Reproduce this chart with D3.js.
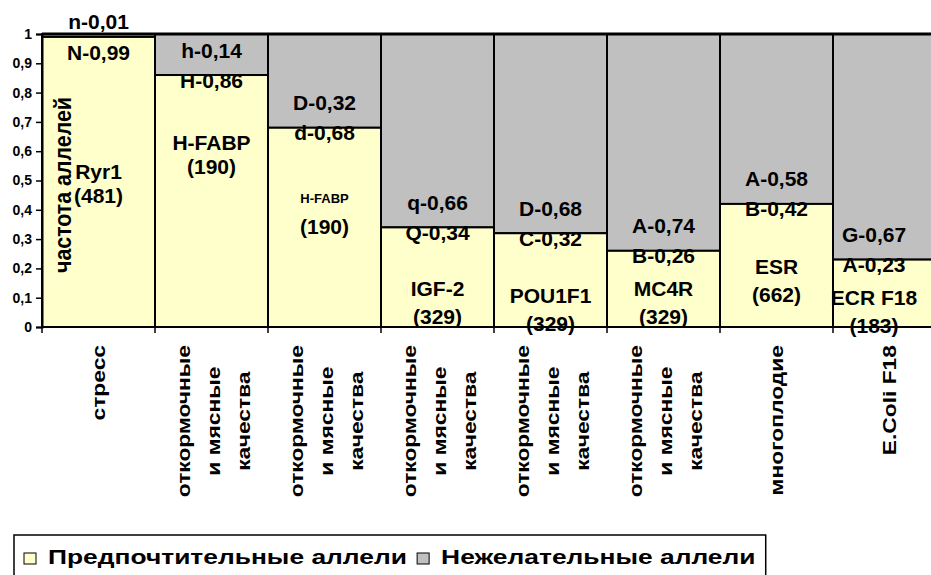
<!DOCTYPE html>
<html>
<head>
<meta charset="utf-8">
<script src="https://cdn.jsdelivr.net/npm/d3@7"></script>
<style>
  html, body { margin: 0; padding: 0; background: #fff; }
  svg { display: block; font-family: "Liberation Sans", Arial, sans-serif; font-weight: bold; }
</style>
</head>
<body>
<svg id="chart" width="931" height="575"></svg>
<script>
// ---- data ----
const categories = [
  ["стресс"],
  ["откормочные", "и мясные", "качества"],
  ["откормочные", "и мясные", "качества"],
  ["откормочные", "и мясные", "качества"],
  ["откормочные", "и мясные", "качества"],
  ["откормочные", "и мясные", "качества"],
  ["многоплодие"],
  ["E.Coli F18"]
];
const preferred   = [0.99, 0.86, 0.68, 0.34, 0.32, 0.26, 0.42, 0.23];
const undesirable = [0.01, 0.14, 0.32, 0.66, 0.68, 0.74, 0.58, 0.77];
const preferredLabels   = ["N-0,99", "H-0,86", "d-0,68", "Q-0,34", "C-0,32", "B-0,26", "B-0,42", "A-0,23"];
const undesirableLabels = ["n-0,01", "h-0,14", "D-0,32", "q-0,66", "D-0,68", "A-0,74", "A-0,58", "G-0,67"];
const genes  = ["Ryr1", "H-FABP", "H-FABP", "IGF-2", "POU1F1", "MC4R", "ESR", "ECR F18"];
const counts = ["(481)", "(190)", "(190)", "(329)", "(329)", "(329)", "(662)", "(183)"];
// level (in allele-frequency units) at which each gene name annotation sits
const geneLabelLevel = [0.53, 0.63, 0.44, 0.13, 0.106, 0.133, 0.208, 0.102];
const yTicks = [0, 0.1, 0.2, 0.3, 0.4, 0.5, 0.6, 0.7, 0.8, 0.9, 1];
const yTitle = "частота аллелей";
const seriesNames = ["Предпочтительные аллели", "Нежелательные аллели"];

// ---- layout ----
const W = 931;
const svg = d3.select("#chart");
const colors = ["#FFFFCC", "#C0C0C0"];
const idx = d3.range(categories.length);
const x = d3.scaleBand().domain(idx).range([42, 42 + 113 * categories.length]).padding(0);
const y = d3.scaleLinear().domain([0, 1]).range([327, 34]);

const plot = svg.append("g");
plot.selectAll("rect.grey").data(idx).join("rect")
  .attr("class", "grey")
  .attr("x", i => x(i)).attr("width", x.bandwidth())
  .attr("y", i => y(preferred[i] + undesirable[i]))
  .attr("height", i => y(preferred[i]) - y(preferred[i] + undesirable[i]))
  .attr("fill", colors[1]).attr("stroke", "#000").attr("stroke-width", 2);
plot.selectAll("rect.yel").data(idx).join("rect")
  .attr("class", "yel")
  .attr("x", i => x(i)).attr("width", x.bandwidth())
  .attr("y", i => y(preferred[i]))
  .attr("height", i => y(0) - y(preferred[i]))
  .attr("fill", colors[0]).attr("stroke", "#000").attr("stroke-width", 2);
plot.append("line").attr("x1", x.range()[0]).attr("x2", x.range()[1])
  .attr("y1", y(1)).attr("y2", y(1)).attr("stroke", "#000").attr("stroke-width", 3);

// y axis
const yAxis = svg.append("g").attr("transform", `translate(${x.range()[0]},0)`)
  .call(d3.axisLeft(y).tickValues(yTicks).tickSize(6).tickPadding(4)
    .tickFormat(d => d === 0 ? "0" : d === 1 ? "1" : d3.format(".1f")(d).replace(".", ",")));
yAxis.select(".domain").attr("stroke", "#000").attr("stroke-width", 2);
yAxis.selectAll(".tick line").attr("stroke", "#000").attr("stroke-width", 1.5);
yAxis.selectAll(".tick text").attr("font-size", 14).attr("font-weight", "bold")
  .attr("font-family", '"Liberation Sans", Arial, sans-serif').attr("fill", "#000");

// x axis line + ticks at category boundaries
const xa = svg.append("g");
xa.append("line").attr("x1", x.range()[0]).attr("x2", x.range()[1])
  .attr("y1", y(0)).attr("y2", y(0)).attr("stroke", "#000").attr("stroke-width", 2);
const bounds = idx.map(i => x(i)).concat([x.range()[1]]);
xa.selectAll("line.tk").data(bounds).join("line").attr("class", "tk")
  .attr("x1", d => d).attr("x2", d => d).attr("y1", y(0)).attr("y2", y(0) + 6)
  .attr("stroke", "#000").attr("stroke-width", 1.5);

// category labels (rotated, glyphs stretched along the text like the source)
const labelTop = 345, catStretch = 1.2;
idx.forEach(i => {
  const lines = categories[i];
  const cx = x(i) + x.bandwidth() / 2;
  const g = svg.append("g");
  const texts = lines.map(t => g.append("text").text(t)
    .attr("font-size", 19)
    .attr("dominant-baseline", "central").attr("text-anchor", "middle"));
  const maxLen = d3.max(texts, t => t.node().getComputedTextLength()) * catStretch;
  const cy = labelTop + maxLen / 2;
  texts.forEach((t, k) => {
    const lx = cx + (k - (lines.length - 1) / 2) * 30 + (lines.length > 1 ? 1.5 : 0);
    t.attr("transform", `translate(${lx},${cy}) rotate(-90) scale(${catStretch},1)`);
  });
});

// in-bar annotations
const ann = svg.append("g").attr("text-anchor", "middle").attr("dominant-baseline", "central").attr("font-size", 21);
idx.forEach(i => {
  const x0 = x(i), x1 = x(i) + x.bandwidth();
  const cx = x1 > W ? (x0 + W) / 2 - 8 : (x0 + x1) / 2;
  const b = y(preferred[i]);
  const tight = (b - y(1)) < 20;
  const upY = tight ? y(1) - 13 : b - 25;
  const loY = tight ? b + 16 : b + 5;
  ann.append("text").attr("x", cx).attr("y", upY).text(undesirableLabels[i]);
  ann.append("text").attr("x", cx).attr("y", loY).text(preferredLabels[i]);
  const gy = y(geneLabelLevel[i]);
  ann.append("text").attr("x", cx).attr("y", gy).text(genes[i])
    .attr("font-size", i === 2 ? 13 : 21);
  ann.append("text").attr("x", cx).attr("y", gy + (i < 2 ? 24 : 28)).text(counts[i]);
});

// y title
const yt = svg.append("text")
  .attr("text-anchor", "middle").attr("dominant-baseline", "central")
  .attr("font-size", 23).text(yTitle);
const ytScale = 176 / yt.node().getComputedTextLength();
yt.attr("transform", `translate(63,185) rotate(-90) scale(${ytScale},1)`);

// legend
const lg = svg.append("g");
const box = lg.append("rect").attr("x", 14).attr("y", 535).attr("height", 50)
  .attr("fill", "#fff").attr("stroke", "#000").attr("stroke-width", 1.5);
const legStretch = 1.32;
let lx = 24;
seriesNames.forEach((name, k) => {
  lg.append("rect").attr("x", lx).attr("y", 553).attr("width", 12).attr("height", 11)
    .attr("fill", colors[k]).attr("stroke", "#000").attr("stroke-width", 1);
  const t = lg.append("text").attr("font-size", 20).text(name);
  const len = t.node().getComputedTextLength() * legStretch;
  t.attr("transform", `translate(${lx + 24},564) scale(${legStretch},1)`);
  lx = lx + 24 + len + 10;
});
box.attr("width", lx - 14);
</script>
</body>
</html>
